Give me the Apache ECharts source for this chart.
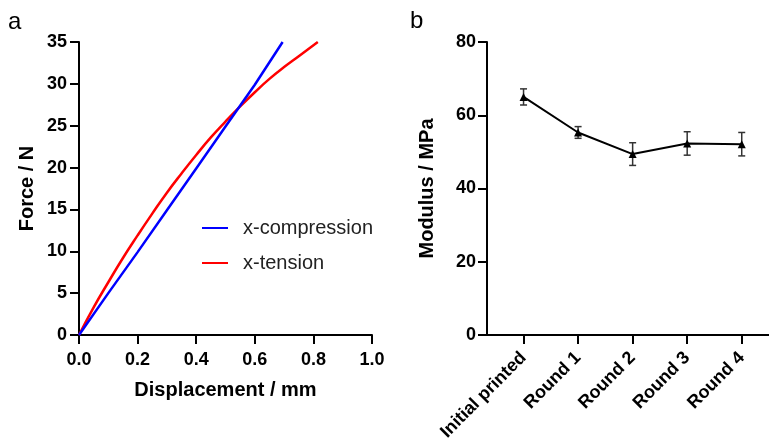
<!DOCTYPE html>
<html>
<head>
<meta charset="utf-8">
<script src="https://cdn.jsdelivr.net/npm/echarts@6/dist/echarts.min.js"></script>
<style>html,body{margin:0;padding:0;background:#fff}#c{width:769px;height:441px}</style>
</head>
<body>
<div id="c"></div>
<script>
// Panel a data (displacement mm, force N)
var compX = [0, 0.1, 0.2, 0.3, 0.4, 0.5, 0.6, 0.695];
var compY = [0, 5.0, 9.9, 14.9, 19.9, 24.9, 29.9, 35.0];
var tensX = [0, 0.05, 0.1, 0.15, 0.2, 0.25, 0.3, 0.35, 0.4, 0.45, 0.5, 0.55, 0.6, 0.65, 0.7, 0.75, 0.815];
var tensY = [0, 3.3, 6.3, 9.2, 11.9, 14.5, 17.0, 19.3, 21.5, 23.6, 25.5, 27.3, 29.0, 30.6, 32.0, 33.3, 35.0];
// Panel b data
var categories = ['Initial printed', 'Round 1', 'Round 2', 'Round 3', 'Round 4'];
var modulus = [65.0, 55.3, 49.4, 52.3, 52.1];
var modErr = [2.2, 1.6, 3.1, 3.2, 3.2];

function pairs(xs, ys){ return xs.map(function(x,i){ return [x, ys[i]]; }); }
var catIdx = categories.map(function(c,i){ return i; });

var FONT = 'Liberation Sans, Arial, sans-serif';
var axisLine = {show:true, onZero:false, lineStyle:{color:'#000', width:2}};
var axisTick = {show:true, inside:false, length:9, lineStyle:{color:'#000', width:2}};
var lbl = {color:'#000', fontSize:18, fontWeight:'bold', fontFamily:FONT};
var nameStyle = {color:'#000', fontSize:20, fontWeight:'bold', fontFamily:FONT};

var chart = echarts.init(document.getElementById('c'), null, {renderer:'canvas'});
chart.setOption({
  animation:false,
  backgroundColor:'#fff',
  graphic:[
    {type:'text', left:8, top:10, style:{text:'a', fontSize:24, fontFamily:FONT, fill:'#000'}},
    {type:'text', left:410, top:9, style:{text:'b', fontSize:24, fontFamily:FONT, fill:'#000'}}
  ],
  legend:{
    data:['x-compression','x-tension'],
    orient:'vertical', left:197, top:213,
    itemWidth:26, itemHeight:14, itemGap:15,
    icon:'path://M0,6 L26,6 L26,8 L0,8 Z',
    textStyle:{fontSize:20, color:'#222', fontFamily:FONT, padding:[0,0,0,10]}
  },
  grid:[
    {left:79, top:42, width:293, height:293, containLabel:false, outerBoundsMode:'none'},
    {left:487, top:42, width:282, height:293, containLabel:false, outerBoundsMode:'none'}
  ],
  xAxis:[
    {type:'value', gridIndex:0, min:0, max:1, interval:0.2,
     name:'Displacement / mm', nameLocation:'middle', nameGap:45, nameTextStyle:nameStyle,
     axisLine:axisLine, axisTick:axisTick, splitLine:{show:false},
     axisLabel:Object.assign({margin:16, formatter:function(v){return v.toFixed(1);}}, lbl)},
    {type:'value', gridIndex:1, min:-0.67, max:4.5,
     axisLine:axisLine, splitLine:{show:false},
     axisTick:Object.assign({customValues:catIdx}, axisTick),
     axisLabel:{customValues:catIdx, rotate:45, margin:20,
       color:'#000', fontWeight:'bold', fontFamily:FONT, fontSize:18,
       formatter:function(v){ return categories[Math.round(v)] || ''; }}}
  ],
  yAxis:[
    {type:'value', gridIndex:0, min:0, max:35, interval:5,
     name:'Force / N', nameLocation:'middle', nameGap:42, nameTextStyle:nameStyle,
     axisLine:axisLine, axisTick:axisTick, splitLine:{show:false},
     axisLabel:Object.assign({margin:12}, lbl)},
    {type:'value', gridIndex:1, min:0, max:80, interval:20,
     name:'Modulus / MPa', nameLocation:'middle', nameGap:50, nameTextStyle:nameStyle,
     axisLine:axisLine, axisTick:axisTick, splitLine:{show:false},
     axisLabel:Object.assign({margin:11}, lbl)}
  ],
  series:[
    {name:'x-compression', type:'line', xAxisIndex:0, yAxisIndex:0, data:pairs(compX, compY),
     symbol:'none', lineStyle:{color:'#0000ff', width:2.5}, itemStyle:{color:'#0000ff'}, z:3},
    {name:'x-tension', type:'line', xAxisIndex:0, yAxisIndex:0, data:pairs(tensX, tensY),
     symbol:'none', smooth:true, lineStyle:{color:'#ff0000', width:2.5}, itemStyle:{color:'#ff0000'}, z:2},
    {name:'err', type:'custom', xAxisIndex:1, yAxisIndex:1,
     data: catIdx.map(function(i){ return [i, modulus[i]-modErr[i], modulus[i]+modErr[i]]; }),
     renderItem:function(params, api){
       var x = api.value(0), lo = api.value(1), hi = api.value(2);
       var p1 = api.coord([x, lo]), p2 = api.coord([x, hi]);
       var w = 3.5;
       var st = {stroke:'#333', lineWidth:1.5};
       return {type:'group', children:[
         {type:'line', shape:{x1:p1[0], y1:p1[1], x2:p2[0], y2:p2[1]}, style:st},
         {type:'line', shape:{x1:p1[0]-w, y1:p1[1], x2:p1[0]+w, y2:p1[1]}, style:st},
         {type:'line', shape:{x1:p2[0]-w, y1:p2[1], x2:p2[0]+w, y2:p2[1]}, style:st}
       ]};
     }, z:2},
    {name:'modulus', type:'line', xAxisIndex:1, yAxisIndex:1,
     data: catIdx.map(function(i){ return [i, modulus[i]]; }),
     symbol:'triangle', symbolSize:8, lineStyle:{color:'#000', width:2}, itemStyle:{color:'#000'}, z:3}
  ]
});
</script>
</body>
</html>
